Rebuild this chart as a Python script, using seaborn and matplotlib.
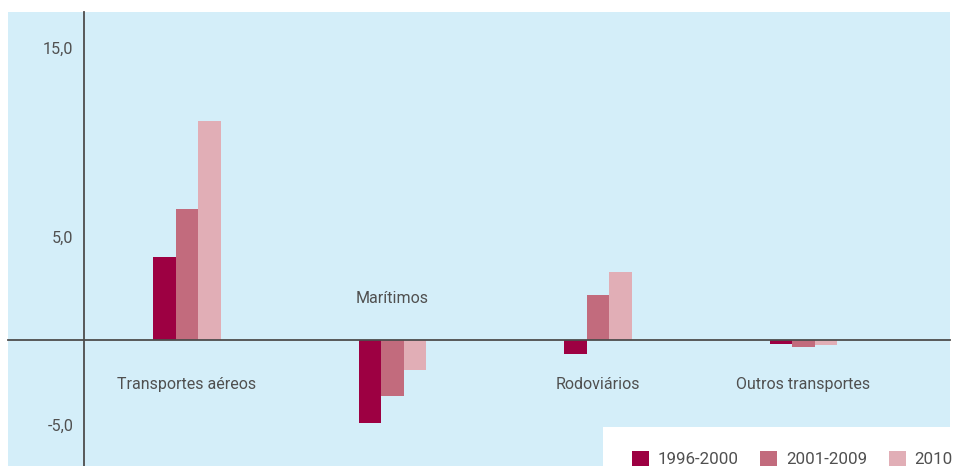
import matplotlib
matplotlib.use("Agg")
import matplotlib.pyplot as plt
from matplotlib.patches import Rectangle
from matplotlib.transforms import ScaledTranslation
import seaborn as sns
import pandas as pd

# Annual average growth by transport type (%)
categories = ["Transportes aéreos", "Marítimos", "Rodoviários", "Outros transportes"]
periods = ["1996-2000", "2001-2009", "2010"]
v_1996_2000 = [4.4, -4.4, -0.75, -0.2]
v_2001_2009 = [6.95, -2.95, 2.4, -0.35]
v_2010 = [11.6, -1.6, 3.6, -0.25]
ytick_values = [15, 5, -5]
ytick_labels = ["15,0", "5,0", "-5,0"]

palette = ["#9d0042", "#c26b7d", "#e1aeb6"]
panel_bg = "#d4eef9"
text_color = "#505050"

df = pd.DataFrame({
    "categoria": categories * 3,
    "periodo": [p for p in periods for _ in categories],
    "valor": v_1996_2000 + v_2001_2009 + v_2010,
})

sns.set_theme(style="white")
plt.rcParams["font.family"] = ["Roboto", "DejaVu Sans"]

W, H, DPI = 955, 466, 100
fig = plt.figure(figsize=(W / DPI, H / DPI), dpi=DPI, facecolor="white")
ax = fig.add_axes([8 / W, 0, (950 - 8) / W, (H - 12) / H])
ax.set_facecolor(panel_bg)

sns.barplot(data=df, x="categoria", y="valor", hue="periodo",
            order=categories, hue_order=periods, palette=palette,
            saturation=1, width=0.33, linewidth=0, ax=ax)

ax.set_xlim(-0.871, 3.713)
ax.set_ylim(-6.68, 17.4)
ax.set_xlabel("")
ax.set_ylabel("")

# Axis lines: vertical axis just left of the first group, horizontal at zero
for side in ("top", "right"):
    ax.spines[side].set_visible(False)
ax.spines["left"].set_position(("data", -0.5))
ax.spines["bottom"].set_position(("data", 0))
for side in ("left", "bottom"):
    ax.spines[side].set_color("#4d4d4d")
    ax.spines[side].set_linewidth(1.3)
ax.spines["left"].set_bounds(-6.68, 17.4)
ax.spines["bottom"].set_bounds(-0.871, 3.713)

ax.set_yticks(ytick_values)
ax.set_yticklabels(ytick_labels)
ax.tick_params(axis="y", length=0, pad=8, labelsize=11.6, labelcolor=text_color)
ax.tick_params(axis="x", length=0, pad=26.5, labelsize=11.5, labelcolor=text_color)

# Value labels sit a little above their gridline
for lbl in ax.get_yticklabels():
    lbl.set_transform(lbl.get_transform() + ScaledTranslation(0, 9 / DPI, fig.dpi_scale_trans))
# Category with negative bars is labelled above the zero line
for lbl in ax.get_xticklabels():
    if lbl.get_text() == "Marítimos":
        lbl.set_transform(lbl.get_transform() + ScaledTranslation(0, 86 / DPI, fig.dpi_scale_trans))

# Legend on a white strip in the lower right corner
handles, labels = ax.get_legend_handles_labels()
ax.get_legend().remove()
fig.patches.append(Rectangle((603 / W, 0), (950 - 603) / W, (H - 427) / H,
                             transform=fig.transFigure, facecolor="white",
                             edgecolor="none", zorder=5))
leg = fig.legend(handles, labels, loc="center left", ncol=3, frameon=False,
                 bbox_to_anchor=(632 / W, (H - 459) / H), fontsize=12.2,
                 handlelength=1.0, handleheight=1.0, handletextpad=0.5,
                 columnspacing=1.3, labelcolor=text_color, borderaxespad=0,
                 borderpad=0)
leg.set_zorder(6)

fig.savefig("out.png", dpi=DPI, facecolor="white")
